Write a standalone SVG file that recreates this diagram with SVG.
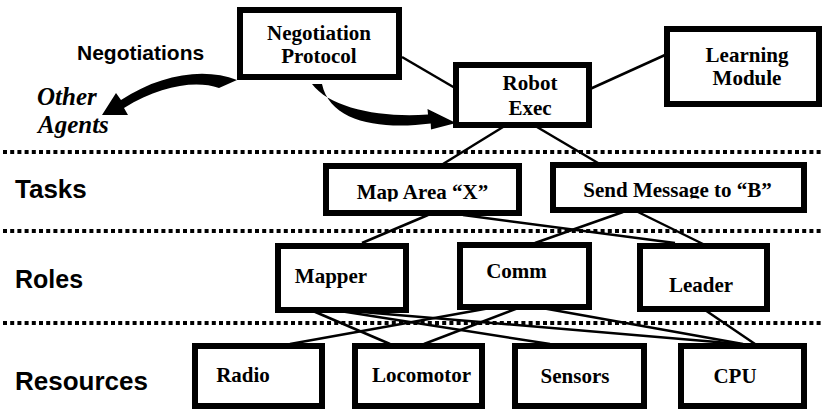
<svg xmlns="http://www.w3.org/2000/svg" width="824" height="412" viewBox="0 0 824 412">
<style>
.box{fill:#fff;stroke:#000;stroke-width:6}
.t{font-family:"Liberation Serif","Times New Roman",serif;font-weight:bold;font-size:21px;text-anchor:middle;fill:#000}
.lab{font-family:"Liberation Sans",Arial,sans-serif;font-weight:bold;font-size:25px;fill:#000}
.oa{font-family:"Liberation Serif","Times New Roman",serif;font-weight:bold;font-style:italic;font-size:25px;fill:#000}
.sep{stroke:#000;stroke-width:4;stroke-dasharray:4 3.2;fill:none}
.c{stroke:#000;stroke-width:2.5;fill:none}
</style>
<defs>
<clipPath id="clipMap"><rect x="320" y="160" width="210" height="41.5"/></clipPath>
<clipPath id="clipSend"><rect x="545" y="160" width="270" height="38.5"/></clipPath>
</defs>
<g id="separators">
<line class="sep" x1="3" y1="152" x2="822" y2="152"/>
<line class="sep" x1="3" y1="231" x2="822" y2="231"/>
<line class="sep" x1="3" y1="323" x2="822" y2="323"/>
</g>
<g id="labels">
<text class="lab" x="77" y="60" style="font-size:21px">Negotiations</text>
<text class="oa" x="37" y="105">Other</text>
<text class="oa" x="38" y="133">Agents</text>
<text class="lab" x="15" y="198" style="font-size:26px">Tasks</text>
<text class="lab" x="15" y="288">Roles</text>
<text class="lab" x="15" y="390" style="font-size:26px">Resources</text>
</g>
<g id="connectors">
<line class="c" x1="402" y1="57" x2="455" y2="88"/>
<line class="c" x1="590" y1="89" x2="665" y2="55"/>
<line class="c" x1="503" y1="127" x2="443" y2="164"/>
<line class="c" x1="537" y1="127" x2="598" y2="163"/>
<line class="c" x1="428" y1="215" x2="362" y2="243"/>
<line class="c" x1="463" y1="215" x2="675" y2="243"/>
<line class="c" x1="623" y1="212" x2="535" y2="243"/>
<line class="c" x1="638" y1="212" x2="703" y2="244"/>
<line class="c" x1="313" y1="311" x2="390" y2="344"/>
<line class="c" x1="340" y1="311" x2="550" y2="344"/>
<line class="c" x1="350" y1="311" x2="740" y2="344"/>
<line class="c" x1="490" y1="308" x2="290" y2="344"/>
<line class="c" x1="518" y1="308" x2="424" y2="344"/>
<line class="c" x1="542" y1="308" x2="743" y2="344"/>
<line class="c" x1="705" y1="310" x2="755" y2="344"/>
<path d="M237,80 C205,67 160,74 121,100 L116,93 L102,115 L128,115 L124,108 C160,86 195,80 219,88 Z" fill="#000"/>
<path d="M312,84 C330,108 380,118 428,114.5 L427.5,109 L456,123 L431,129.5 L430.7,123.5 C380,130 330,122 322,84 Z" fill="#000"/>
</g>
<g id="negotiation-protocol">
<rect class="box" x="240" y="10" width="159" height="67"/>
<text class="t" x="319" y="40">Negotiation</text>
<text class="t" x="319" y="63">Protocol</text>
</g>
<g id="robot-exec">
<rect class="box" x="456" y="65" width="133" height="60"/>
<text class="t" x="530" y="90">Robot</text>
<text class="t" x="530" y="115">Exec</text>
</g>
<g id="learning-module">
<rect class="box" x="667" y="29" width="152" height="75"/>
<text class="t" x="747" y="62">Learning</text>
<text class="t" x="747" y="85">Module</text>
</g>
<g id="map-area">
<rect class="box" x="326" y="166" width="193" height="47"/>
<text class="t" x="422.5" y="199" clip-path="url(#clipMap)">Map Area “X”</text>
</g>
<g id="send-message">
<rect class="box" x="553" y="165" width="251" height="45"/>
<text class="t" x="677.5" y="197" clip-path="url(#clipSend)">Send Message to “B”</text>
</g>
<g id="mapper">
<rect class="box" x="278" y="246" width="128" height="64"/>
<text class="t" x="331" y="283">Mapper</text>
</g>
<g id="comm">
<rect class="box" x="460" y="245" width="129" height="62"/>
<text class="t" x="516.5" y="278">Comm</text>
</g>
<g id="leader">
<rect class="box" x="640" y="246" width="127" height="63"/>
<text class="t" x="701" y="292">Leader</text>
</g>
<g id="radio">
<rect class="box" x="195" y="346" width="127" height="60"/>
<text class="t" x="243" y="382">Radio</text>
</g>
<g id="locomotor">
<rect class="box" x="355" y="346" width="127" height="60"/>
<text class="t" x="421.5" y="382">Locomotor</text>
</g>
<g id="sensors">
<rect class="box" x="515" y="346" width="129" height="60"/>
<text class="t" x="575" y="383">Sensors</text>
</g>
<g id="cpu">
<rect class="box" x="681" y="346" width="123" height="60"/>
<text class="t" x="735" y="383">CPU</text>
</g>
</svg>
